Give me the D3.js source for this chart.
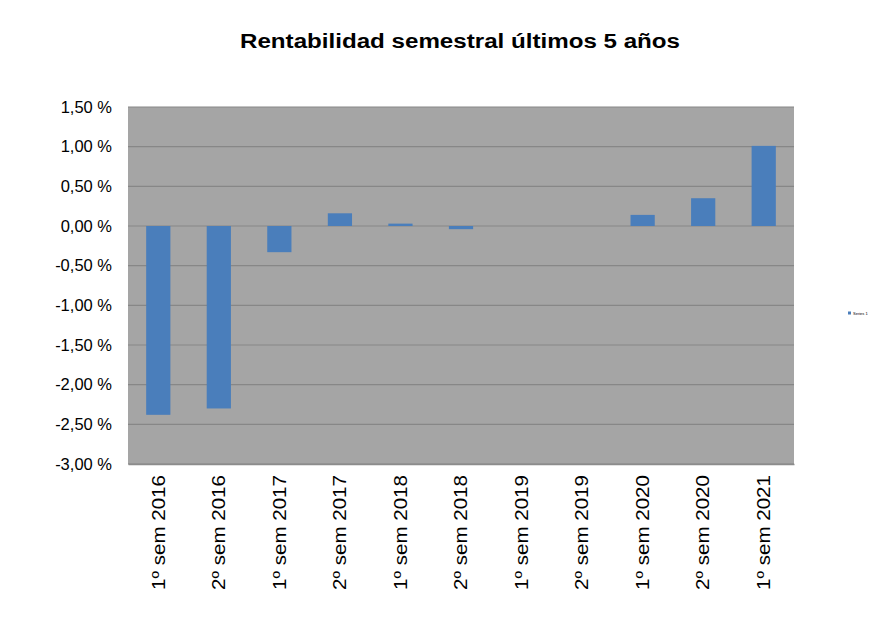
<!DOCTYPE html>
<html>
<head>
<meta charset="utf-8">
<script src="https://cdn.jsdelivr.net/npm/d3@7"></script>
<style>
  body { margin: 0; background: #fff; }
  text { font-family: "Liberation Sans", Arial, sans-serif; fill: #000; }
</style>
</head>
<body>
<div id="chart"></div>
<script>
// chart data
var categories = ["1º sem 2016", "2º sem 2016", "1º sem 2017", "2º sem 2017",
  "1º sem 2018", "2º sem 2018", "1º sem 2019", "2º sem 2019",
  "1º sem 2020", "2º sem 2020", "1º sem 2021"];
var values = [-2.38, -2.30, -0.33, 0.16, 0.03, -0.04, 0, 0, 0.14, 0.35, 1.01];
var yTicks = [1.5, 1.0, 0.5, 0, -0.5, -1.0, -1.5, -2.0, -2.5, -3.0];
var seriesName = "Series 1";
var title = "Rentabilidad semestral últimos 5 años";

var W = 894, H = 626;
var margin = {top: 107, right: 100, bottom: 162, left: 128},
    width = W - margin.left - margin.right,
    height = H - margin.top - margin.bottom;

var svg = d3.select("#chart")
  .append("svg")
    .attr("width", W)
    .attr("height", H);

// title (the source image is a bit stretched sideways)
svg.append("text")
  .attr("x", 460)
  .attr("y", 48)
  .attr("text-anchor", "middle")
  .attr("textLength", 440)
  .attr("lengthAdjust", "spacingAndGlyphs")
  .style("font-size", "20px")
  .style("font-weight", "bold")
  .text(title);

var g = svg.append("g")
  .attr("transform", "translate(" + margin.left + "," + margin.top + ")");

var x = d3.scaleBand()
  .domain(categories)
  .range([0, width])
  .paddingInner(0.6)
  .paddingOuter(0.3);

var y = d3.scaleLinear()
  .domain([-3, 1.5])
  .range([height, 0]);

// plot background
g.append("rect")
  .attr("width", width)
  .attr("height", height)
  .attr("fill", "#a5a5a5");

// gridlines
g.append("g")
  .selectAll("line")
  .data(yTicks)
  .enter()
  .append("line")
    .attr("x1", 0)
    .attr("x2", width)
    .attr("y1", d => y(d))
    .attr("y2", d => y(d))
    .attr("stroke", "#878787")
    .attr("stroke-width", 1.2);

// bars
g.append("g")
  .selectAll("rect")
  .data(values)
  .enter()
  .append("rect")
    .attr("x", (d, i) => x(categories[i]))
    .attr("width", x.bandwidth())
    .attr("y", d => y(Math.max(0, d)))
    .attr("height", d => Math.abs(y(d) - y(0)))
    .attr("fill", "#4a7ebb");

// y axis labels
var yAxis = g.append("g")
  .call(d3.axisLeft(y)
    .tickValues(yTicks)
    .tickSize(0)
    .tickPadding(16)
    .tickFormat(d => d3.format(".2f")(d).replace(".", ",").replace("−", "-") + " %"));
yAxis.select(".domain").remove();
yAxis.selectAll("text")
  .style("font-size", "16.5px")
  .style("font-family", "'Liberation Sans', Arial, sans-serif")
  .attr("fill", "#000");

// x axis labels
var xAxis = g.append("g")
  .attr("transform", "translate(0," + height + ")")
  .call(d3.axisBottom(x).tickSize(0));
xAxis.select(".domain").attr("stroke", "#8c8c8c").attr("stroke-width", 1.5);
xAxis.selectAll("text")
  .attr("transform", "rotate(-90)")
  .attr("x", -11)
  .attr("y", 0)
  .attr("dy", "0.35em")
  .attr("text-anchor", "end")
  .attr("textLength", 115)
  .attr("lengthAdjust", "spacingAndGlyphs")
  .style("font-size", "18px")
  .style("font-family", "'Liberation Sans', Arial, sans-serif")
  .attr("fill", "#000");

// tiny legend
var legend = svg.append("g")
  .attr("transform", "translate(848,313)");
legend.append("rect")
  .attr("x", 0).attr("y", -1.5)
  .attr("width", 3).attr("height", 3)
  .attr("fill", "#4a7ebb");
legend.append("text")
  .attr("x", 5)
  .attr("y", 1.5)
  .style("font-size", "4px")
  .attr("fill", "#555")
  .text(seriesName);
</script>
</body>
</html>
